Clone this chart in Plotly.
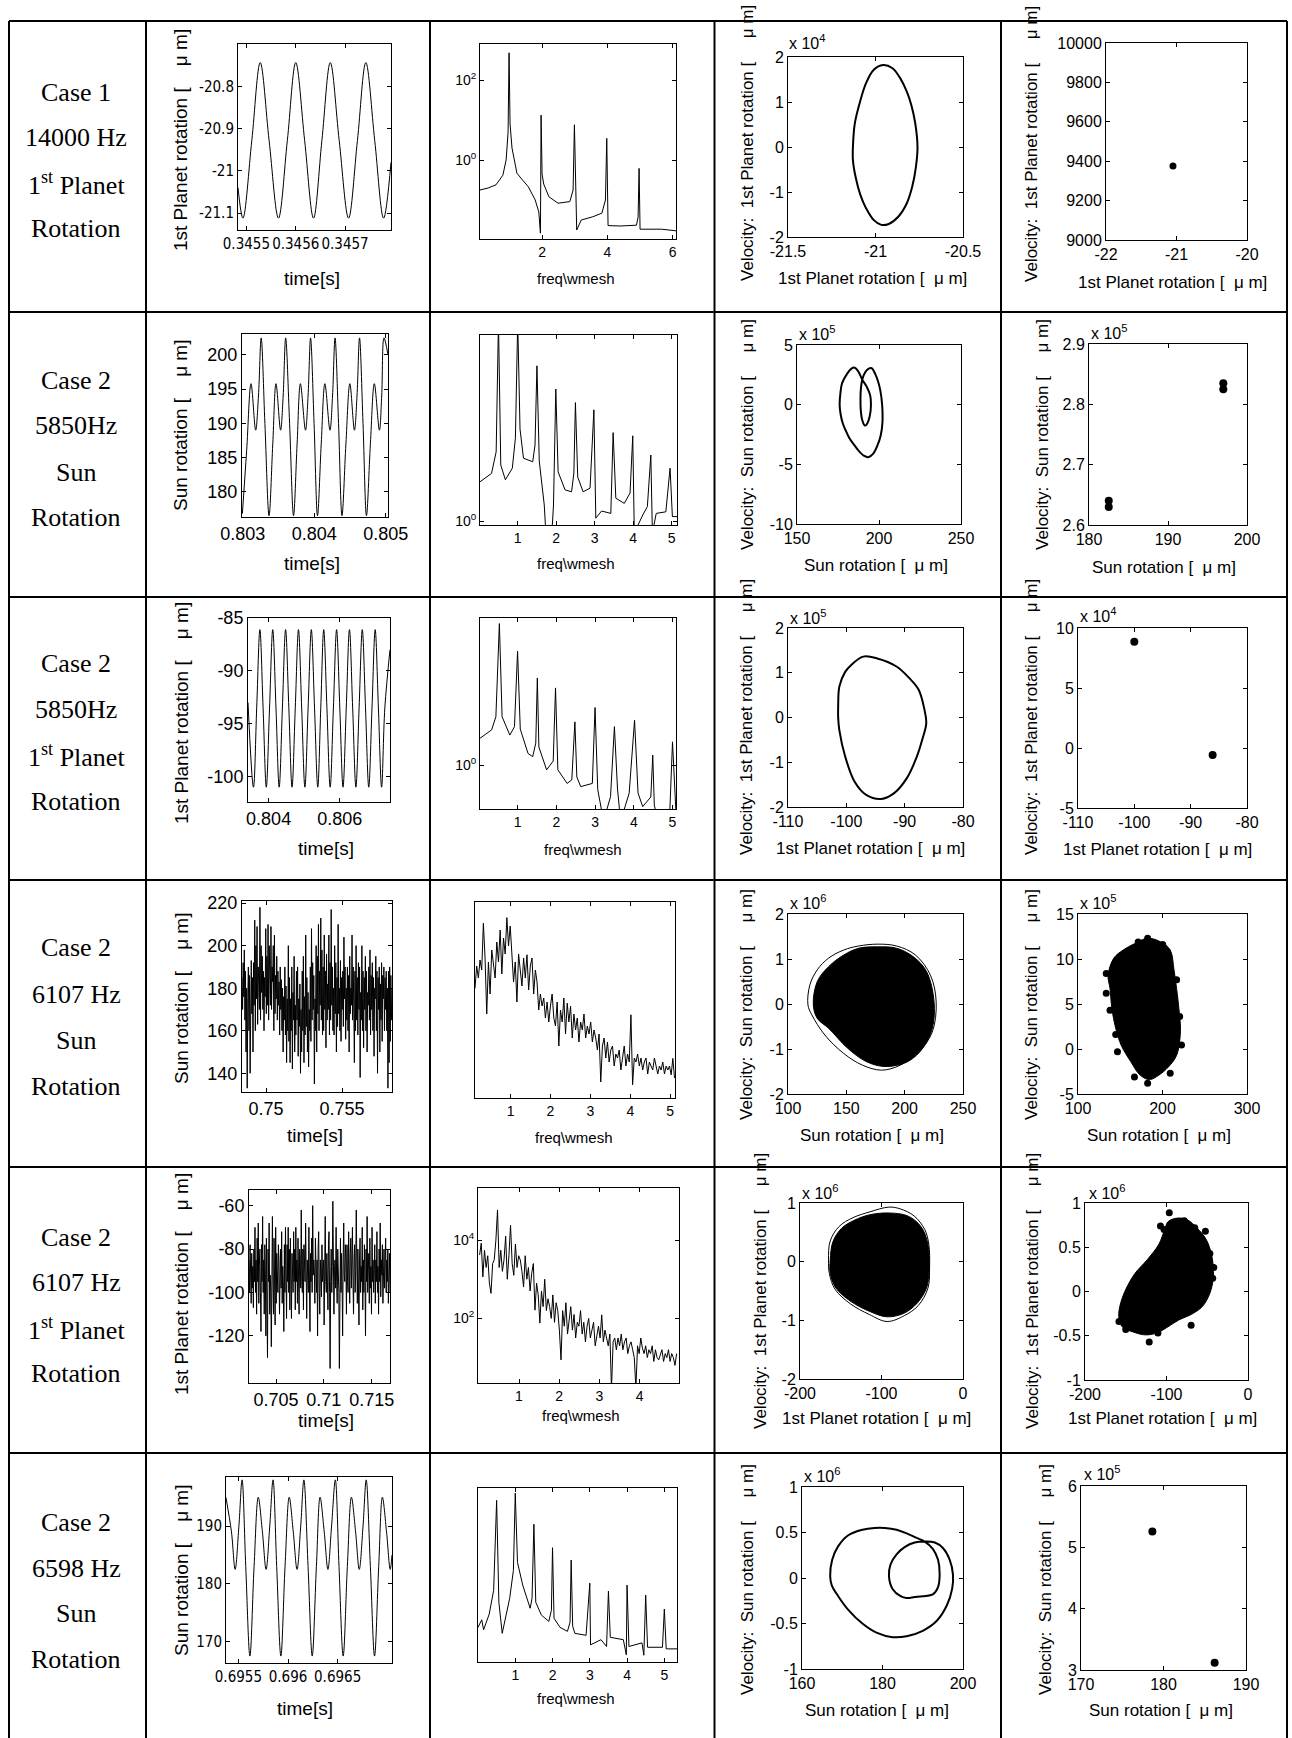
import plotly.graph_objects as go

W, H = 1292, 1738
NB = "\u00a0"

# ============================ DATA ============================
row_labels = [
    ["Case 1", "14000 Hz", "1<sup>st</sup> Planet", "Rotation"],
    ["Case 2", "5850Hz", "Sun", "Rotation"],
    ["Case 2", "5850Hz", "1<sup>st</sup> Planet", "Rotation"],
    ["Case 2", "6107 Hz", "Sun", "Rotation"],
    ["Case 2", "6107 Hz", "1<sup>st</sup> Planet", "Rotation"],
    ["Case 2", "6598 Hz", "Sun", "Rotation"],
]

# ---------- Row 1 : Case 1, 14000 Hz, 1st planet ----------
r1_time = [0.345483, 0.345493, 0.345511, 0.345528, 0.345546, 0.345565, 0.345583, 0.345600,
           0.345618, 0.345636, 0.345653, 0.345670, 0.345688, 0.345707, 0.345725, 0.345742,
           0.345760, 0.345778, 0.345793]
r1_rot = [-21.04, -21.112, -20.928, -20.744, -20.928, -21.112, -20.928, -20.744,
          -20.928, -21.112, -20.928, -20.744, -20.928, -21.112, -20.928, -20.744,
          -20.928, -21.112, -20.98]
r1_freq = [0.1, 0.35, 0.59, 0.8, 0.9, 0.96, 0.99, 1.02, 1.08, 1.23,
           1.4, 1.58, 1.79, 1.9, 1.95, 1.97, 2.0, 2.05, 2.21, 2.49,
           2.85, 2.95, 2.99, 3.03, 3.06, 3.2, 3.55, 3.83, 3.94, 3.98,
           4.02, 4.39, 4.89, 4.94, 4.97, 5.0, 5.66, 6.1]
r1_logamp = [-0.75, -0.7, -0.62, -0.38, 0.0, 0.7, 2.68, 0.9, 0.3, -0.33,
             -0.5, -0.67, -1.0, -1.3, -1.83, 1.12, -0.35, -0.6, -0.92, -1.08,
             -1.04, -0.75, 0.88, -0.9, -1.75, -1.5, -1.42, -1.33, -1.0, 0.54,
             -1.64, -1.65, -1.63, -1.42, -0.21, -1.73, -1.73, -1.77]
r1_ph_x = [-21.129, -21.118, -21.086, -21.054, -21.011, -20.957, -20.903, -20.859, -20.821, -20.795,
           -20.773, -20.760, -20.769, -20.790, -20.821, -20.870, -20.924, -20.967, -21.011, -21.054,
           -21.086, -21.114, -21.129, -21.129]
r1_ph_v = [0.0, 0.53, 1.04, 1.42, 1.71, 1.82, 1.75, 1.53, 1.23, 0.93,
           0.53, 0.0, -0.44, -0.88, -1.25, -1.55, -1.71, -1.73, -1.62, -1.36,
           -1.07, -0.66, -0.29, 0.0]
r1_pc_x = [-21.05]
r1_pc_v = [9376]

# ---------- Row 2 : Case 2, 5850 Hz, Sun ----------
r2_time = [0.802995, 0.803055, 0.803116, 0.803181, 0.803220, 0.803258, 0.803310, 0.803368,
           0.803420, 0.803465, 0.803529, 0.803565, 0.803600, 0.803655, 0.803710, 0.803760,
           0.803806, 0.803877, 0.803913, 0.803948, 0.803997, 0.804045, 0.804097, 0.804148,
           0.804219, 0.804255, 0.804290, 0.804339, 0.804387, 0.804442, 0.804497, 0.804561,
           0.804597, 0.804632, 0.804681, 0.804729, 0.804784, 0.804839, 0.804910, 0.804942,
           0.804974, 0.805030]
r2_rot = [176.8, 186.0, 195.8, 189.0, 194.0, 202.5, 190.0, 176.5,
          187.0, 195.8, 189.0, 194.0, 202.5, 190.0, 176.5, 187.0,
          195.8, 189.0, 194.0, 202.5, 190.0, 176.5, 187.0, 195.8,
          189.0, 194.0, 202.5, 190.0, 176.5, 187.0, 195.8, 189.0,
          194.0, 202.5, 190.0, 176.5, 187.0, 195.8, 189.0, 194.0,
          202.5, 200.0]
r2_freq = [0.02, 0.32, 0.44, 0.5, 0.56, 0.68, 0.86, 0.94, 1.0, 1.06,
           1.15, 1.39, 1.45, 1.5, 1.56, 1.69, 1.75, 1.87, 1.93, 1.99,
           2.05, 2.23, 2.4, 2.46, 2.5, 2.56, 2.7, 2.88, 2.98, 3.03,
           3.18, 3.42, 3.48, 3.55, 3.77, 3.92, 3.99, 4.03, 4.25, 4.37,
           4.46, 4.5, 4.6, 4.85, 4.96, 5.02, 5.14]
r2_logamp = [0.98, 1.19, 1.73, 5.0, 1.4, 1.03, 1.32, 2.07, 5.0, 2.3,
             1.57, 1.48, 1.9, 3.88, 1.5, 0.4, -0.6, -0.6, 0.4, 3.3,
             1.23, 0.78, 0.73, 1.2, 2.96, 1.1, 0.73, 0.82, 2.78, 0.07,
             0.25, 0.19, 2.21, 0.57, 0.44, 0.7, 2.13, -0.3, 0.15, 0.36,
             1.65, -0.3, 0.19, 0.23, 1.32, 0.11, 0.11]
r2_ph_x = [176.0, 176.5, 177.5, 180.6, 183.0, 185.2, 187.3, 189.8, 192.5, 194.6,
           195.1, 194.3, 192.5, 191.3, 189.8, 188.9, 188.7, 189.0, 189.8, 191.5,
           193.5, 195.6, 197.6, 199.3, 200.8, 201.9, 202.1, 201.0, 199.1, 196.5,
           193.5, 191.0, 187.5, 184.5, 181.9, 179.5, 178.0, 176.6, 176.0]
r2_ph_v = [0.0, 1.0, 1.8, 2.6, 3.0, 3.1, 2.8, 2.1, 1.5, 0.8,
           0.0, -1.0, -1.65, -1.75, -1.3, -0.5, 0.5, 1.4, 2.1, 2.7,
           3.0, 3.05, 2.6, 2.0, 1.2, 0.0, -1.5, -2.6, -3.4, -4.1,
           -4.4, -4.3, -3.85, -3.3, -2.8, -2.1, -1.6, -0.8, 0.0]
r2_pc_x = [182.5, 182.5, 197.0, 197.0]
r2_pc_v = [2.630, 2.640, 2.825, 2.835]

# ---------- Row 3 : Case 2, 5850 Hz, 1st planet ----------
r3_time = [0.803421, 0.803574, 0.803665, 0.803755, 0.803845, 0.803935, 0.804026, 0.804116,
           0.804207, 0.804297, 0.804387, 0.804477, 0.804568, 0.804658, 0.804749, 0.804839,
           0.804929, 0.805019, 0.805110, 0.805200, 0.805290, 0.805381, 0.805465, 0.805548,
           0.805638, 0.805729, 0.805820, 0.805910, 0.806000, 0.806090, 0.806181, 0.806271,
           0.806361, 0.806452, 0.806542, 0.806632, 0.806722, 0.806813, 0.806904, 0.806994,
           0.807084, 0.807174, 0.807265, 0.807410]
r3_rot = [-93.0, -101.0, -93.5, -86.1, -93.5, -101.0, -93.5, -86.1,
          -93.5, -101.0, -93.5, -86.1, -93.5, -101.0, -93.5, -86.1,
          -93.5, -101.0, -93.5, -86.1, -93.5, -101.0, -93.5, -86.1,
          -93.5, -101.0, -93.5, -86.1, -93.5, -101.0, -93.5, -86.1,
          -93.5, -101.0, -93.5, -86.1, -93.5, -101.0, -93.5, -86.1,
          -93.5, -101.0, -93.5, -88.0]
r3_freq = [0.03, 0.33, 0.44, 0.53, 0.6, 0.8, 0.92, 1.0, 1.07, 1.27,
           1.39, 1.47, 1.51, 1.55, 1.75, 1.92, 1.98, 2.04, 2.28, 2.4,
           2.48, 2.53, 2.63, 2.93, 3.0, 3.07, 3.22, 3.4, 3.5, 3.58,
           3.66, 3.88, 4.02, 4.11, 4.23, 4.44, 4.49, 4.53, 4.62, 4.92,
           5.0, 5.06, 5.09]
r3_logamp = [0.67, 0.88, 1.21, 3.54, 1.21, 0.75, 0.96, 2.85, 0.9, 0.29,
             0.21, 0.55, 2.18, 0.45, -0.12, 0.1, 1.93, -0.12, -0.46, -0.37,
             1.08, -0.3, -0.54, -0.46, 1.44, -0.62, -1.4, -0.79, 0.96, -0.6,
             -1.4, -0.71, 1.12, -0.7, -1.04, -0.8, 0.25, -1.0, -1.4, -1.4,
             0.58, -0.96, -1.2]
r3_ph_x = [-101.4, -101.4, -101.2, -100.2, -99.2, -97.1, -94.7, -91.4, -89.2, -87.6,
           -86.6, -86.3, -87.0, -87.9, -89.6, -91.8, -94.0, -96.6, -98.6, -100.2,
           -101.2, -101.4]
r3_ph_v = [0.0, 0.24, 0.69, 1.02, 1.17, 1.36, 1.32, 1.14, 0.88, 0.62,
           0.17, -0.13, -0.5, -0.87, -1.35, -1.69, -1.82, -1.73, -1.43, -0.87,
           -0.28, 0.0]
r3_pc_x = [-100.0, -86.1]
r3_pc_v = [8.86, -0.58]

# ---------- Row 4 : Case 2, 6107 Hz, Sun (chaotic) ----------
r4_t0, r4_dt = 0.74842, 0.00003807
r4_rot = [185, 170, 192, 176, 198, 165, 188, 150, 180, 133,
          175, 190, 160, 186, 140, 178, 193, 168, 185, 150,
          192, 172, 212, 160, 200, 175, 209, 163, 190, 182,
          170, 218, 165, 200, 178, 195, 170, 188, 160, 185,
          176, 208, 168, 195, 172, 210, 165, 200, 185, 172,
          209, 170, 190, 183, 200, 160, 205, 168, 186, 175,
          195, 165, 188, 172, 183, 158, 190, 170, 184, 160,
          180, 150, 176, 165, 190, 158, 181, 145, 175, 160,
          200, 155, 185, 145, 175, 160, 190, 142, 178, 165,
          195, 150, 172, 158, 188, 165, 190, 148, 175, 162,
          182, 140, 170, 150, 188, 160, 195, 145, 176, 158,
          205, 162, 185, 150, 178, 143, 170, 160, 190, 155,
          208, 165, 192, 170, 186, 135, 175, 160, 200, 150,
          195, 168, 210, 160, 188, 172, 213, 165, 198, 158,
          190, 160, 205, 170, 188, 152, 196, 165, 182, 170,
          205, 158, 192, 165, 217, 172, 190, 160, 180, 158,
          200, 168, 192, 150, 185, 162, 210, 168, 180, 160,
          193, 155, 185, 170, 188, 162, 204, 175, 190, 156,
          180, 165, 190, 160, 186, 150, 195, 168, 180, 172,
          205, 165, 190, 172, 145, 188, 160, 200, 165, 185,
          158, 192, 170, 190, 138, 178, 165, 200, 160, 188,
          152, 185, 170, 195, 160, 188, 150, 178, 172, 190,
          165, 198, 158, 186, 170, 192, 160, 185, 148, 180,
          175, 195, 160, 188, 140, 185, 170, 190, 150, 182,
          165, 192, 155, 186, 175, 190, 160, 185, 170, 188,
          160, 180, 133, 188, 145, 190, 155, 186, 165, 180]
r4_f0, r4_df = 0.11, 0.042
r4_logamp = [2.74, 3.3, 3.0, 3.45, 3.2, 4.37, 3.5, 2.1, 3.4, 2.6, 3.7, 3.3, 3.0, 3.9, 3.4, 4.2, 3.1, 4.0, 3.6, 4.51, 3.8, 4.3, 3.7, 2.9,
             3.4, 2.4, 3.6, 3.2, 2.8, 3.5, 3.0, 3.58, 2.7, 3.3, 3.5, 2.6, 3.2, 2.9, 2.2, 2.6, 2.3, 2.5, 2.0, 2.4, 1.9, 2.3, 2.6, 2.0,
             1.8, 2.4, 1.3, 2.2, 1.9, 2.5, 1.6, 2.37, 1.9, 2.3, 1.5, 2.1, 1.7, 2.0, 1.4, 1.9, 1.7, 2.1, 1.5, 1.8, 1.6, 1.9, 1.4, 1.7,
             1.5, 1.2, 1.6, 0.4, 1.3, 1.5, 1.0, 1.4, 0.9, 1.2, 1.3, 0.8, 1.1, 1.0, 1.2, 0.7, 1.0, 1.3, 0.8, 1.1, 0.9, 2.08, 0.33, 1.0,
             0.9, 1.1, 0.8, 1.0, 0.7, 0.9, 1.0, 0.6, 0.9, 0.8, 0.7, 1.0, 0.8, 0.6, 0.8, 0.7, 0.9, 0.6, 0.8, 0.7, 0.8, 0.58, 0.99, 0.5]
r4_ph_x = [121.7, 125.1, 134.8, 147.8, 160.7, 176.8, 193.0, 207.5, 218.8, 225.2,
           223.7, 215.6, 202.7, 183.3, 167.1, 151.0, 134.8, 125.1, 121.7]
r4_ph_v = [-0.02, 0.50, 0.83, 1.09, 1.24, 1.27, 1.24, 1.05, 0.72, 0.05,
           -0.54, -0.98, -1.28, -1.39, -1.28, -0.98, -0.54, -0.32, -0.02]
r4_ph_outer_x = [117.1, 118.7, 125.1, 134.8, 147.8, 160.7, 176.8, 193.0, 209.2, 222.1,
                 227.0, 223.7, 212.3, 196.2, 180.1, 163.9, 147.8, 131.6, 120.4, 117.1]
r4_ph_outer_v = [-0.02, 0.42, 0.76, 1.02, 1.2, 1.29, 1.33, 1.29, 1.09, 0.64,
                 0.05, -0.62, -1.06, -1.36, -1.47, -1.36, -1.1, -0.69, -0.24, -0.02]
r4_pc_core_x = [135.6, 142.4, 153.5, 166.8, 182.4, 197.9, 209.1, 213.6, 216.7, 219.4, 221.2,
                216.7, 206.9, 195.8, 184.6, 173.5, 162.4, 151.2, 144.6, 140.1, 137.9, 135.6]
r4_pc_core_v = [8.2, 10.1, 11.0, 11.7, 12.3, 11.9, 11.0, 8.8, 6.7, 4.5, 1.9,
                -0.7, -2.0, -2.9, -3.4, -2.9, -1.4, 0.4, 2.3, 4.5, 6.7, 8.2]
r4_pc_x = [133.4, 133.4, 137.9, 144.6, 146.7, 166.8, 182.4, 184.6, 209.1, 222.5, 220.3, 216.7,
           182.4, 171.2, 200.2, 146.7]
r4_pc_v = [8.4, 6.2, 4.3, 1.6, -0.3, -3.1, -3.8, -2.8, -2.7, 0.45, 3.6, 7.7,
           12.3, 11.9, 11.6, 9.9]

# ---------- Row 5 : Case 2, 6107 Hz, 1st planet (chaotic) ----------
r5_t0, r5_dt = 0.70217, 0.00005695
r5_rot = [-85, -100, -78, -95, -105, -82, -98, -88, -107, -80,
          -95, -70, -100, -85, -110, -75, -95, -68, -105, -88,
          -80, -100, -118, -78, -95, -65, -100, -85, -110, -78,
          -90, -120, -75, -105, -130, -80, -95, -68, -110, -92,
          -100, -125, -82, -65, -95, -110, -75, -88, -115, -70,
          -105, -82, -95, -100, -78, -85, -110, -90, -80, -98,
          -72, -105, -88, -95, -118, -78, -100, -70, -85, -112,
          -78, -95, -70, -100, -80, -108, -75, -98, -112, -82,
          -90, -100, -72, -95, -80, -108, -70, -95, -85, -105,
          -75, -100, -110, -80, -85, -98, -62, -95, -100, -80,
          -108, -78, -92, -95, -68, -100, -112, -85, -95, -100,
          -70, -88, -118, -82, -95, -75, -100, -60, -92, -85,
          -90, -105, -75, -95, -100, -85, -120, -80, -72, -100,
          -110, -85, -90, -102, -78, -95, -88, -85, -115, -80,
          -65, -95, -100, -82, -90, -108, -78, -72, -100, -135,
          -95, -80, -100, -88, -58, -85, -110, -90, -85, -98,
          -70, -95, -105, -80, -88, -100, -135, -90, -75, -100,
          -82, -95, -120, -85, -68, -92, -95, -78, -85, -110,
          -78, -95, -100, -72, -90, -105, -82, -75, -98, -88,
          -70, -95, -110, -85, -78, -100, -90, -62, -95, -105,
          -80, -92, -115, -85, -75, -100, -88, -95, -70, -108,
          -85, -100, -78, -92, -120, -80, -95, -65, -100, -90,
          -82, -105, -75, -98, -88, -110, -70, -95, -85, -100,
          -92, -78, -105, -85, -95, -72, -100, -88, -110, -80,
          -95, -68, -102, -85, -92, -78, -105, -90, -80, -98,
          -88, -75, -100, -85, -95, -80, -105, -90, -82, -100]
r5_f0, r5_df = 0.02, 0.0405
r5_logamp = [3.62, 3.92, 3.06, 3.74, 3.3, 3.6, 2.9, 2.64, 3.4, 3.5, 4.0, 4.77, 3.3, 3.74, 3.2, 3.5, 4.1, 3.0, 3.6, 4.38, 3.4, 3.1, 3.9, 3.3, 3.6,
             3.49, 3.2, 2.8, 3.6, 3.0, 3.3, 2.7, 3.15, 3.4, 2.21, 2.9, 2.6, 1.88, 2.7, 2.3, 3.0, 2.2, 2.5, 2.30, 2.0, 2.6, 1.9, 2.4, 2.2, 1.7,
             0.94, 2.2, 1.8, 2.4, 1.6, 2.0, 2.3, 1.7, 2.1, 1.5, 1.9, 1.8, 2.2, 1.6, 1.9, 1.4, 1.8, 2.0, 1.5, 1.7, 1.9, 1.3, 1.6, 1.8, 1.5,
             2.09, 1.4, 1.7, 1.5, 1.3, 1.6, 0.2, 1.4, 1.5, 1.2, 1.5, 1.3, 1.6, 1.2, 1.4, 1.5, 1.1, 1.3, 1.4, 1.2, 1.0, 0.2, 1.3, 1.1, 1.5,
             1.24, 1.1, 1.3, 1.0, 1.2, 1.1, 1.3, 0.9, 1.2, 1.0, 0.94, 1.1, 1.2, 0.9, 1.1, 1.0, 1.2, 0.9, 1.1, 1.0, 0.8, 1.1]
r5_ph_x = [-162.9, -159.6, -148.9, -132.7, -114.2, -91.0, -67.9, -51.7, -43.4, -41.6,
           -44.8, -56.4, -72.5, -93.4, -114.2, -137.4, -155.9, -162.9, -162.9]
r5_ph_v = [0.03, 0.34, 0.57, 0.71, 0.80, 0.83, 0.78, 0.60, 0.32, -0.14,
           -0.45, -0.71, -0.88, -0.94, -0.85, -0.68, -0.45, -0.2, 0.03]
r5_ph_outer_x = [-165, -163, -152, -135, -114, -91, -77, -60, -47, -42,
                 -41, -43, -55, -72, -93, -115, -138, -157, -164, -165]
r5_ph_outer_v = [0.03, 0.35, 0.6, 0.75, 0.85, 0.93, 0.9, 0.78, 0.55, 0.3,
                 -0.1, -0.45, -0.75, -0.92, -1.02, -0.9, -0.72, -0.47, -0.2, 0.03]
r5_pc_core_x = [-158.6, -154.2, -139.8, -123.6, -109.6, -102.2, -98.0, -85.9, -74.3, -62.9,
                -51.4, -44.4, -42.5, -46.8, -56.0, -69.8, -84.6, -98.4, -112.3, -126.2,
                -140.0, -154.2, -158.6]
r5_pc_core_v = [-0.28, -0.07, 0.19, 0.36, 0.53, 0.70, 0.79, 0.83, 0.81, 0.72,
                0.59, 0.40, 0.17, -0.02, -0.17, -0.26, -0.32, -0.40, -0.47, -0.49,
                -0.46, -0.40, -0.28]
r5_pc_x = [-96.6, -107.4, -78.2, -65.3, -52.3, -46.8, -42.0, -43.3, -69.8, -121.2,
           -110.5, -158.3, -150.0, -103.0, -90.0]
r5_pc_v = [0.89, 0.74, 0.80, 0.72, 0.68, 0.43, 0.27, 0.15, -0.38, -0.57,
           -0.47, -0.34, -0.43, 0.70, 0.75]

# ---------- Row 6 : Case 2, 6598 Hz, Sun ----------
r6_time = [0.695374, 0.695430, 0.695467, 0.695505, 0.695537, 0.695574, 0.695616, 0.695658,
           0.695700, 0.695742, 0.695779, 0.695816, 0.695849, 0.695886, 0.695928, 0.695970,
           0.696012, 0.696053, 0.696091, 0.696128, 0.696160, 0.696202, 0.696244, 0.696286,
           0.696323, 0.696365, 0.696402, 0.696439, 0.696477, 0.696514, 0.696556, 0.696598,
           0.696639, 0.696681, 0.696718, 0.696756, 0.696788, 0.696830, 0.696872, 0.696914,
           0.696951, 0.696993, 0.697030, 0.697048]
r6_rot = [195.0, 189.0, 182.5, 190.0, 198.0, 183.0, 167.5, 183.0,
          195.0, 189.0, 182.5, 190.0, 198.0, 183.0, 167.5, 183.0,
          195.0, 189.0, 182.5, 190.0, 198.0, 183.0, 167.5, 183.0,
          195.0, 189.0, 182.5, 190.0, 198.0, 183.0, 167.5, 183.0,
          195.0, 189.0, 182.5, 190.0, 198.0, 183.0, 167.5, 183.0,
          195.0, 189.0, 182.5, 185.0]
r6_freq = [0.0, 0.1, 0.15, 0.3, 0.42, 0.5, 0.56, 0.65, 0.85, 0.95,
           1.0, 1.06, 1.2, 1.4, 1.45, 1.5, 1.55, 1.7, 1.9, 1.97,
           2.0, 2.04, 2.2, 2.4, 2.47, 2.5, 2.54, 2.6, 2.9, 3.0,
           3.02, 3.3, 3.45, 3.5, 3.55, 3.9, 3.98, 4.0, 4.05, 4.4,
           4.45, 4.5, 4.55, 4.95, 5.0, 5.05, 5.34]
r6_logamp = [0.87, 1.06, 0.81, 1.2, 1.8, 4.06, 1.5, 0.72, 1.6, 2.3,
             4.24, 2.5, 1.93, 1.35, 1.6, 3.46, 1.5, 1.18, 1.02, 1.3,
             2.87, 1.1, 0.87, 0.77, 1.0, 2.56, 0.9, 0.72, 0.67, 1.98,
             0.43, 0.56, 0.39, 1.78, 0.62, 0.56, 0.18, 1.93, 0.39, 0.48,
             0.17, 1.68, 0.37, 0.37, 1.33, 0.33, 0.33]
r6_ph_x = [167.0, 167.5, 169.0, 171.5, 175.0, 178.0, 180.6, 183.5, 186.0, 188.5,
           190.5, 192.5, 193.8, 194.2, 193.8, 192.5, 190.0, 188.0, 186.0, 184.5,
           182.5, 181.6, 182.0, 183.5, 185.5, 188.0, 190.5, 193.0, 195.0, 196.7,
           197.5, 197.3, 196.0, 193.5, 190.0, 186.0, 182.5, 178.5, 175.0, 171.5,
           169.0, 167.4, 167.0]
r6_ph_v = [0.02, 0.2, 0.35, 0.47, 0.53, 0.55, 0.55, 0.53, 0.49, 0.44,
           0.40, 0.32, 0.2, 0.04, -0.1, -0.18, -0.2, -0.21, -0.22, -0.2,
           -0.12, 0.02, 0.15, 0.26, 0.34, 0.39, 0.40, 0.39, 0.33, 0.2,
           0.04, -0.12, -0.3, -0.47, -0.58, -0.64, -0.65, -0.6, -0.5, -0.35,
           -0.2, -0.08, 0.02]
r6_pc_x = [178.65, 186.2]
r6_pc_v = [5.26, 3.12]

# ---------- tick values / labels ----------
spec_ticks_15 = [1, 2, 3, 4, 5]
spec_ticks_15_txt = ["1", "2", "3", "4", "5"]
pow_txt = {0: "10<sup>0</sup>", 2: "10<sup>2</sup>", 4: "10<sup>4</sup>"}

# ============================ STYLE ============================
SANS = "Liberation Sans, Arial, Helvetica, sans-serif"
NARROW = "Liberation Sans Narrow, Arial Narrow, DejaVu Sans Condensed, Liberation Sans, sans-serif"
SERIF = "Liberation Serif, Times New Roman, Times, serif"
F_A = dict(family=SANS, size=18, color="black")
F_N = dict(family=NARROW, size=15, color="black")
F_B = dict(family=SANS, size=14, color="black")
F_C = dict(family=SANS, size=16, color="black")

fig = go.Figure()
axes = {}


def mk_axes(n, frame, xr, yr, xtv, xtt, ytv, ytt, xfont, yfont, ymarks=True):
    l, r, t, b = frame
    sx = "" if n == 1 else str(n)
    base = dict(showline=True, linecolor="black", linewidth=1, mirror="ticks",
                ticks="inside", ticklen=4, tickwidth=1, tickcolor="black", tickangle=0,
                showgrid=False, zeroline=False, fixedrange=True, tickmode="array",
                automargin=False)
    axes["xaxis" + sx] = dict(base, domain=[l / W, r / W], range=xr, anchor="y" + sx,
                              tickvals=xtv, ticktext=xtt, tickfont=xfont)
    ya = dict(base, domain=[1 - b / H, 1 - t / H], range=yr, anchor="x" + sx,
              tickvals=ytv, ticktext=ytt, tickfont=yfont)
    if not ymarks:
        ya["ticks"] = ""
        ya["mirror"] = True
    axes["yaxis" + sx] = ya
    return "x" + sx, "y" + sx


def line(xa, ya, x, y, width=1, shape="linear", **kw):
    fig.add_trace(go.Scatter(x=x, y=y, xaxis=xa, yaxis=ya, mode="lines",
                             line=dict(color="black", width=width, shape=shape),
                             showlegend=False, hoverinfo="skip", **kw))


def dots(xa, ya, x, y, size=7):
    fig.add_trace(go.Scatter(x=x, y=y, xaxis=xa, yaxis=ya, mode="markers",
                             marker=dict(color="black", size=size),
                             showlegend=False, hoverinfo="skip"))


def blob(xa, ya, x, y):
    fig.add_trace(go.Scatter(x=x, y=y, xaxis=xa, yaxis=ya, mode="lines", fill="toself",
                             fillcolor="black", line=dict(color="black", width=1, shape="spline"),
                             showlegend=False, hoverinfo="skip"))


# ---------------- Row 1 ----------------
xa, ya = mk_axes(1, (238, 391, 44, 230), [0.345483, 0.345793], [-21.14, -20.70],
                 [0.3455, 0.3456, 0.3457], ["0.3455", "0.3456", "0.3457"],
                 [-21.1, -21.0, -20.9, -20.8], ["-21.1", "-21", "-20.9", "-20.8"], F_N, F_N)
line(xa, ya, r1_time, r1_rot, 1, "spline")
xa, ya = mk_axes(2, (480, 676, 44, 239), [0.1, 6.1], [-1.975, 2.9],
                 [2, 4, 6], ["2", "4", "6"], [0, 2], [pow_txt[0], pow_txt[2]], F_B, F_B)
line(xa, ya, r1_freq, r1_logamp, 1)
xa, ya = mk_axes(3, (788, 963, 57, 237), [-21.5, -20.5], [-2, 2],
                 [-21.5, -21, -20.5], ["-21.5", "-21", "-20.5"],
                 [-2, -1, 0, 1, 2], ["-2", "-1", "0", "1", "2"], F_C, F_C)
line(xa, ya, r1_ph_x, r1_ph_v, 2, "spline")
xa, ya = mk_axes(4, (1106, 1247, 43, 240), [-22, -20], [9000, 10000],
                 [-22, -21, -20], ["-22", "-21", "-20"],
                 [9000, 9200, 9400, 9600, 9800, 10000],
                 ["9000", "9200", "9400", "9600", "9800", "10000"], F_C, F_C)
dots(xa, ya, r1_pc_x, r1_pc_v, 7)

# ---------------- Row 2 ----------------
xa, ya = mk_axes(5, (242, 388, 334, 517), [0.80299, 0.80503], [176.3, 203.07],
                 [0.803, 0.804, 0.805], ["0.803", "0.804", "0.805"],
                 [180, 185, 190, 195, 200], ["180", "185", "190", "195", "200"], F_A, F_A)
line(xa, ya, r2_time, r2_rot, 1, "spline")
xa, ya = mk_axes(6, (480, 677, 335, 525), [0.02, 5.14], [-0.1, 4.65],
                 spec_ticks_15, spec_ticks_15_txt, [0], [pow_txt[0]], F_B, F_B)
line(xa, ya, r2_freq, r2_logamp, 1)
xa, ya = mk_axes(7, (797, 961, 345, 524), [150, 250], [-10, 5],
                 [150, 200, 250], ["150", "200", "250"],
                 [-10, -5, 0, 5], ["-10", "-5", "0", "5"], F_C, F_C)
line(xa, ya, r2_ph_x, r2_ph_v, 2, "spline")
xa, ya = mk_axes(8, (1089, 1247, 344, 525), [180, 200], [2.6, 2.9],
                 [180, 190, 200], ["180", "190", "200"],
                 [2.6, 2.7, 2.8, 2.9], ["2.6", "2.7", "2.8", "2.9"], F_C, F_C)
dots(xa, ya, r2_pc_x, r2_pc_v, 8)

# ---------------- Row 3 ----------------
xa, ya = mk_axes(9, (248, 390, 618, 802), [0.803421, 0.80741], [-102.4, -85],
                 [0.804, 0.806], ["0.804", "0.806"],
                 [-100, -95, -90, -85], ["-100", "-95", "-90", "-85"], F_A, F_A)
line(xa, ya, r3_time, r3_rot, 1, "spline")
xa, ya = mk_axes(10, (480, 676, 618, 809), [0.03, 5.09], [-1.1, 3.68],
                 spec_ticks_15, spec_ticks_15_txt, [0], [pow_txt[0]], F_B, F_B)
line(xa, ya, r3_freq, r3_logamp, 1)
xa, ya = mk_axes(11, (788, 963, 628, 807), [-110, -80], [-2, 2],
                 [-110, -100, -90, -80], ["-110", "-100", "-90", "-80"],
                 [-2, -1, 0, 1, 2], ["-2", "-1", "0", "1", "2"], F_C, F_C)
line(xa, ya, r3_ph_x, r3_ph_v, 2, "spline")
xa, ya = mk_axes(12, (1078, 1247, 628, 808), [-110, -80], [-5, 10],
                 [-110, -100, -90, -80], ["-110", "-100", "-90", "-80"],
                 [-5, 0, 5, 10], ["-5", "0", "5", "10"], F_C, F_C)
dots(xa, ya, r3_pc_x, r3_pc_v, 8)

# ---------------- Row 4 ----------------
xa, ya = mk_axes(13, (242, 392, 901, 1092), [0.74842, 0.75828], [131.2, 221],
                 [0.75, 0.755], ["0.75", "0.755"],
                 [140, 160, 180, 200, 220], ["140", "160", "180", "200", "220"], F_A, F_A)
line(xa, ya, None, r4_rot, 1, x0=r4_t0, dx=r4_dt)
xa, ya = mk_axes(14, (475, 675, 902, 1098), [0.11, 5.12], [0, 4.9],
                 spec_ticks_15, spec_ticks_15_txt, [], [], F_B, F_B, ymarks=False)
line(xa, ya, None, r4_logamp, 1, x0=r4_f0, dx=r4_df)
xa, ya = mk_axes(15, (788, 963, 914, 1094), [100, 250], [-2, 2],
                 [100, 150, 200, 250], ["100", "150", "200", "250"],
                 [-2, -1, 0, 1, 2], ["-2", "-1", "0", "1", "2"], F_C, F_C)
line(xa, ya, r4_ph_outer_x, r4_ph_outer_v, 1, "spline")
blob(xa, ya, r4_ph_x, r4_ph_v)
xa, ya = mk_axes(16, (1078, 1247, 914, 1094), [100, 300], [-5, 15],
                 [100, 200, 300], ["100", "200", "300"],
                 [-5, 0, 5, 10, 15], ["-5", "0", "5", "10", "15"], F_C, F_C)
blob(xa, ya, r4_pc_core_x, r4_pc_core_v)
dots(xa, ya, r4_pc_x, r4_pc_v, 7)

# ---------------- Row 5 ----------------
xa, ya = mk_axes(17, (249, 390, 1190, 1383), [0.70217, 0.71692], [-141.7, -52.8],
                 [0.705, 0.71, 0.715], ["0.705", "0.71", "0.715"],
                 [-120, -100, -80, -60], ["-120", "-100", "-80", "-60"], F_A, F_A)
line(xa, ya, None, r5_rot, 1, x0=r5_t0, dx=r5_dt)
xa, ya = mk_axes(18, (478, 679, 1188, 1383), [-0.02, 4.98], [0.35, 5.33],
                 [1, 2, 3, 4], ["1", "2", "3", "4"], [2, 4], [pow_txt[2], pow_txt[4]], F_B, F_B)
line(xa, ya, None, r5_logamp, 1, x0=r5_f0, dx=r5_df)
xa, ya = mk_axes(19, (800, 963, 1203, 1379), [-200, 0], [-2, 1],
                 [-200, -100, 0], ["-200", "-100", "0"],
                 [-2, -1, 0, 1], ["-2", "-1", "0", "1"], F_C, F_C)
line(xa, ya, r5_ph_outer_x, r5_ph_outer_v, 1, "spline")
blob(xa, ya, r5_ph_x, r5_ph_v)
xa, ya = mk_axes(20, (1085, 1248, 1203, 1380), [-200, 0], [-1, 1],
                 [-200, -100, 0], ["-200", "-100", "0"],
                 [-1, -0.5, 0, 0.5, 1], ["-1", "-0.5", "0", "0.5", "1"], F_C, F_C)
blob(xa, ya, r5_pc_core_x, r5_pc_core_v)
dots(xa, ya, r5_pc_x, r5_pc_v, 7)

# ---------------- Row 6 ----------------
xa, ya = mk_axes(21, (226, 392, 1477, 1663), [0.695375, 0.697048], [166.3, 198.5],
                 [0.6955, 0.696, 0.6965], ["0.6955", "0.696", "0.6965"],
                 [170, 180, 190], ["170", "180", "190"], F_N, F_N)
line(xa, ya, r6_time, r6_rot, 1, "spline")
xa, ya = mk_axes(22, (478, 677, 1488, 1662), [0, 5.34], [0, 4.37],
                 spec_ticks_15, spec_ticks_15_txt, [], [], F_B, F_B, ymarks=False)
line(xa, ya, r6_freq, r6_logamp, 1)
xa, ya = mk_axes(23, (802, 963, 1487, 1669), [160, 200], [-1, 1],
                 [160, 180, 200], ["160", "180", "200"],
                 [-1, -0.5, 0, 0.5, 1], ["-1", "-0.5", "0", "0.5", "1"], F_C, F_C)
line(xa, ya, r6_ph_x, r6_ph_v, 2, "spline")
xa, ya = mk_axes(24, (1081, 1246, 1486, 1670), [170, 190], [3, 6],
                 [170, 180, 190], ["170", "180", "190"],
                 [3, 4, 5, 6], ["3", "4", "5", "6"], F_C, F_C)
dots(xa, ya, r6_pc_x, r6_pc_v, 8)

# ============================ TEXT ============================
anns = []


def ann(x, y, text, size, family=SANS, angle=0, xanchor="center"):
    anns.append(dict(x=x / W, y=1 - y / H, xref="paper", yref="paper", text=text,
                     showarrow=False, textangle=angle, xanchor=xanchor, yanchor="middle",
                     font=dict(family=family, size=size, color="black")))


label_rows_y = [[92, 137, 183, 229], [380, 426, 472, 517], [663, 709, 755, 801],
                [948, 994, 1040, 1086], [1237, 1282, 1328, 1373], [1522, 1568, 1613, 1659]]
for texts, ys in zip(row_labels, label_rows_y):
    for txt, yy in zip(texts, ys):
        ann(76, yy, txt, 26, SERIF)

lab_planet = "1st Planet rotation [" + NB * 4 + "\u03bc m]"
lab_sun = "Sun rotation [" + NB * 4 + "\u03bc m]"
vel_planet = "Velocity:" + NB * 2 + "1st Planet rotation [" + NB * 5 + "\u03bc m]"
vel_sun = "Velocity:" + NB * 2 + "Sun rotation [" + NB * 5 + "\u03bc m]"
xl_planet = "1st Planet rotation [" + NB * 2 + "\u03bc m]"
xl_sun = "Sun rotation [" + NB * 2 + "\u03bc m]"

is_planet = [True, False, True, False, True, False]
ylab_A = [(181, 140), (181, 426), (181, 713), (181, 999), (181, 1284), (181, 1571)]
ylab_C = [(747, 143), (747, 435), (747, 717), (747, 1005), (760, 1291), (747, 1580)]
ylab_D = [(1032, 144), (1042, 435), (1032, 717), (1032, 1005), (1032, 1291), (1045, 1580)]
xlab_A = [(312, 278), (312, 563), (326, 848), (315, 1135), (326, 1420), (305, 1708)]
xlab_B = [(576, 278), (576, 563), (583, 849), (574, 1137), (581, 1415), (576, 1698)]
xlab_C = [(872, 278), (876, 565), (870, 848), (872, 1135), (877, 1418), (877, 1710)]
xlab_D = [(1172, 283), (1164, 567), (1157, 850), (1159, 1135), (1162, 1418), (1161, 1710)]

for i in range(6):
    p = is_planet[i]
    ann(*ylab_A[i], lab_planet if p else lab_sun, 19, SANS, -90)
    ann(*ylab_C[i], vel_planet if p else vel_sun, 17, SANS, -90)
    ann(*ylab_D[i], vel_planet if p else vel_sun, 17, SANS, -90)
    ann(*xlab_A[i], "time[s]", 19, SANS)
    ann(*xlab_B[i], "freq\\wmesh", 15, SANS)
    ann(*xlab_C[i], xl_planet if p else xl_sun, 17, SANS)
    ann(*xlab_D[i], xl_planet if p else xl_sun, 17, SANS)

exp_C = [(787, 42, 4), (797, 333, 5), (788, 617, 5), (788, 902, 6), (800, 1192, 6), (802, 1475, 6)]
exp_D = [(1089, 332, 5), (1078, 615, 4), (1078, 902, 5), (1087, 1192, 6), (1082, 1473, 5)]
for x, y, e in exp_C + exp_D:
    ann(x, y, "x 10<sup>%d</sup>" % e, 16, SANS, 0, "left")

# ============================ TABLE GRID ============================
shapes = []
for x in [9, 146, 430, 714.5, 1001, 1287]:
    shapes.append(dict(type="line", xref="paper", yref="paper", x0=x / W, x1=x / W,
                       y0=1 - 21 / H, y1=0, line=dict(color="black", width=2)))
for y in [21, 312, 597, 880, 1167, 1453]:
    shapes.append(dict(type="line", xref="paper", yref="paper", x0=9 / W, x1=1287 / W,
                       y0=1 - y / H, y1=1 - y / H, line=dict(color="black", width=2)))

fig.update_layout(width=W, height=H,
                  margin=dict(l=0, r=0, t=0, b=0, pad=0, autoexpand=False),
                  paper_bgcolor="white", plot_bgcolor="white",
                  annotations=anns, shapes=shapes, showlegend=False, **axes)

fig.write_html(
    "out.html",
    config={"displayModeBar": False},
    post_script=("document.documentElement.style.margin='0';"
                 "document.body.style.margin='0';"
                 "document.body.style.padding='0';"),
)
